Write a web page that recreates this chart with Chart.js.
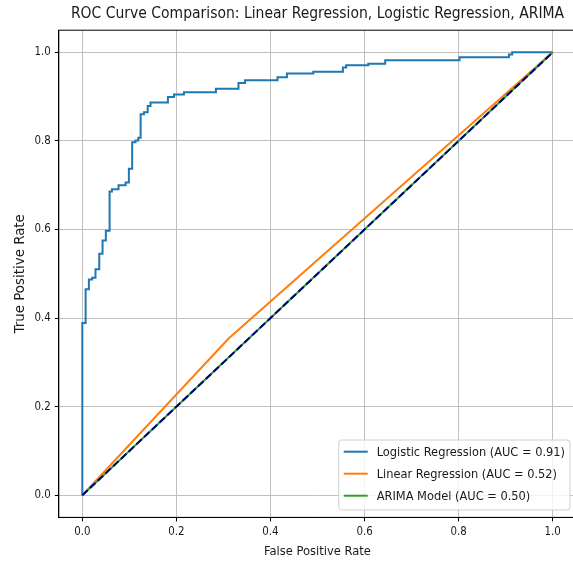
<!DOCTYPE html>
<html>
<head>
<meta charset="utf-8">
<title>ROC Curve Comparison</title>
<script src="https://cdn.jsdelivr.net/npm/chart.js"></script>
<style>
    html, body { margin: 0; padding: 0; background: #fff; overflow: hidden; }
    #wrap { width: 580px; height: 565px; position: relative; }
</style>
</head>
<body>
<div id="wrap"><canvas id="roc-chart"></canvas></div>
<script>
// values
var logFpr = [0, 0, 0.007, 0.014, 0.021, 0.028, 0.036, 0.043, 0.050, 0.058, 0.063, 0.077, 0.092, 0.099, 0.106, 0.113, 0.119, 0.124, 0.131, 0.139, 0.145, 0.182, 0.195, 0.216, 0.284, 0.332, 0.346, 0.415, 0.435, 0.491, 0.554, 0.561, 0.608, 0.644, 0.802, 0.907, 0.914, 1.0]
var logTpr = [0, 0.389, 0.465, 0.487, 0.491, 0.510, 0.545, 0.575, 0.597, 0.686, 0.691, 0.700, 0.706, 0.737, 0.797, 0.801, 0.807, 0.860, 0.865, 0.879, 0.887, 0.899, 0.905, 0.910, 0.918, 0.931, 0.937, 0.944, 0.952, 0.956, 0.966, 0.971, 0.974, 0.982, 0.989, 0.995, 1.0, 1.0]
var linFpr = [0, 0.311, 1.0]
var linTpr = [0, 0.354, 1.0]
var arimaFpr = [0, 1.0]
var arimaTpr = [0, 1.0]
var chanceFpr = [0, 1.0]
var chanceTpr = [0, 1.0]

var seriesLabels = ["Logistic Regression (AUC = 0.91)", "Linear Regression (AUC = 0.52)", "ARIMA Model (AUC = 0.50)"]
var tickVals = [0, 0.2, 0.4, 0.6, 0.8, 1.0]

var fontFamily = "'DejaVu Sans Condensed', 'DejaVu Sans', sans-serif"
var gridColor = '#c0c0c0'

function toPoints(xs, ys) {
    var pts = []
    for (var i = 0; i < xs.length; i++) {
        pts.push({ x: xs[i], y: ys[i] })
    }
    return pts
}

function fixedTicks(scale) {
    scale.ticks = tickVals.map(function (v) { return { value: v } })
}

// matplotlib-like box around the axes
var framePlugin = {
    id: 'frame',
    afterDatasetsDraw: function (chart) {
        var ca = chart.chartArea
        var ctx = chart.ctx
        ctx.save()
        ctx.strokeStyle = '#000'
        ctx.lineWidth = 1
        ctx.strokeRect(ca.left, ca.top, ca.right - ca.left, ca.bottom - ca.top)
        ctx.restore()
    }
}

// legend in the lower right corner, inside the axes
var boxLegend = {
    id: 'boxLegend',
    afterDraw: function (chart) {
        var ca = chart.chartArea
        var ctx = chart.ctx
        var sets = chart.data.datasets.filter(function (d) { return d.label })
        ctx.save()
        ctx.font = "12.7px " + fontFamily
        var maxW = 0
        sets.forEach(function (d) {
            maxW = Math.max(maxW, ctx.measureText(d.label).width)
        })
        var w = 5 + 24 + 9 + maxW + 5
        var rowH = 22
        var h = 11.7 + rowH * (sets.length - 1) + 14.3
        var x = ca.right - 6.2 - w
        var y = ca.bottom - 7.4 - h

        ctx.beginPath()
        ctx.roundRect(x, y, w, h, 3)
        ctx.fillStyle = 'rgba(255,255,255,0.8)'
        ctx.fill()
        ctx.strokeStyle = '#d0d0d0'
        ctx.lineWidth = 1
        ctx.stroke()

        sets.forEach(function (d, i) {
            var ry = y + 11.7 + i * rowH
            ctx.beginPath()
            ctx.moveTo(x + 5, ry)
            ctx.lineTo(x + 29, ry)
            ctx.strokeStyle = d.borderColor
            ctx.lineWidth = 2
            ctx.stroke()
            ctx.fillStyle = '#1a1a1a'
            ctx.textAlign = 'left'
            ctx.textBaseline = 'middle'
            ctx.fillText(d.label, x + 38, ry + 0.5)
        })
        ctx.restore()
    }
}

var rocCanvas = document.getElementById("roc-chart").getContext("2d")

var rocChart = new Chart(rocCanvas, {
    type: 'line',
    data: {
        datasets: [{
            label: seriesLabels[0],
            data: toPoints(logFpr, logTpr),
            borderColor: '#1f77b4',
            borderWidth: 2,
            stepped: 'before',
            order: 3
        }, {
            label: seriesLabels[1],
            data: toPoints(linFpr, linTpr),
            borderColor: '#ff7f0e',
            borderWidth: 2,
            order: 2
        }, {
            label: seriesLabels[2],
            data: toPoints(arimaFpr, arimaTpr),
            borderColor: '#2ca02c',
            borderWidth: 2,
            order: 1
        }, {
            label: '',
            data: toPoints(chanceFpr, chanceTpr),
            borderColor: '#000080',
            borderWidth: 2,
            borderDash: [7.4, 3.2],
            order: 0
        }]
    },
    options: {
        responsive: true,
        maintainAspectRatio: false,
        animation: false,
        events: [],
        elements: {
            point: { radius: 0 },
            line: { tension: 0, borderCapStyle: 'butt' }
        },
        layout: { padding: { left: 0, right: 3.8, top: 0, bottom: 0 } },
        plugins: {
            legend: { display: false },
            tooltip: { enabled: false },
            title: {
                display: true,
                fullSize: false,
                text: 'ROC Curve Comparison: Linear Regression, Logistic Regression, ARIMA',
                color: '#1a1a1a',
                font: { family: fontFamily, size: 15.5, weight: 'normal', lineHeight: 1.2 },
                padding: { top: 5, bottom: 6.6 }
            }
        },
        scales: {
            x: {
                type: 'linear',
                min: -0.05,
                max: 1.05,
                afterBuildTicks: fixedTicks,
                afterFit: function (scale) { scale.height = 47.6 },
                grid: { color: gridColor, lineWidth: 1, tickColor: '#000', tickLength: 4, tickWidth: 1 },
                border: { display: true, color: '#000', width: 1 },
                ticks: {
                    padding: 4,
                    color: '#1a1a1a',
                    maxRotation: 0,
                    font: { family: fontFamily, size: 11.4 },
                    callback: function (v) { return v.toFixed(1) }
                },
                title: {
                    display: true,
                    text: 'False Positive Rate',
                    color: '#1a1a1a',
                    font: { family: fontFamily, size: 12.8, lineHeight: 1.2 },
                    padding: { top: 0, bottom: 5.3 }
                }
            },
            y: {
                type: 'linear',
                min: -0.05,
                max: 1.05,
                afterBuildTicks: fixedTicks,
                afterFit: function (scale) { scale.width = 58.8 },
                grid: { color: gridColor, lineWidth: 1, tickColor: '#000', tickLength: 4, tickWidth: 1 },
                border: { display: true, color: '#000', width: 1 },
                ticks: {
                    padding: 4,
                    color: '#1a1a1a',
                    font: { family: fontFamily, size: 11.4 },
                    callback: function (v) { return v.toFixed(1) }
                },
                title: {
                    display: true,
                    text: 'True Positive Rate',
                    color: '#1a1a1a',
                    font: { family: "'DejaVu Sans', sans-serif", size: 13.4, lineHeight: 1.2 },
                    padding: { top: 12.5, bottom: 0 }
                }
            }
        }
    },
    plugins: [framePlugin, boxLegend]
})
</script>
</body>
</html>
